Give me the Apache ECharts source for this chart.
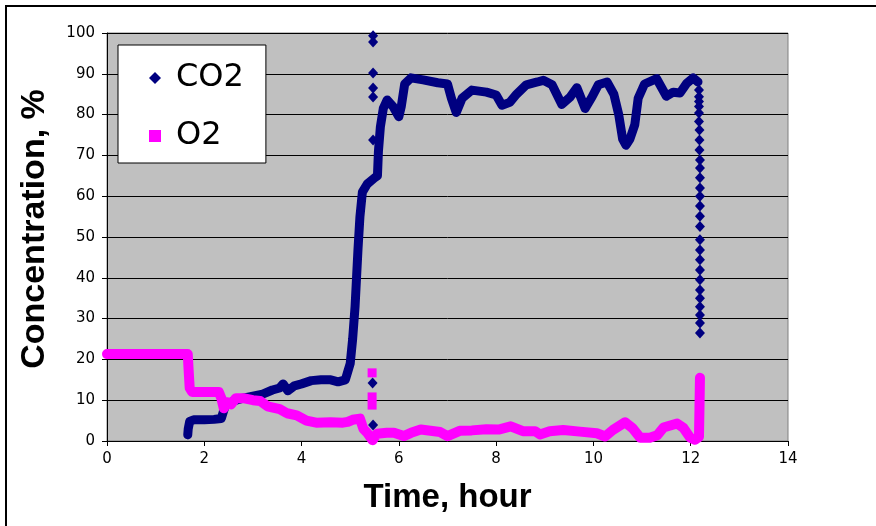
<!DOCTYPE html>
<html>
<head>
<meta charset="utf-8">
<script src="https://cdn.jsdelivr.net/npm/echarts@6/dist/echarts.min.js"></script>
<style>
    body { margin: 0; background: #fff; }
    #main { width: 876px; height: 526px; }
</style>
</head>
<body>
<div id="main"></div>
<script>
// CO2 concentration, continuous part [hour, %]
var co2Line = [
    [1.66, 1.5], [1.67, 3], [1.70, 4.8], [1.78, 5.2], [2.0, 5.2], [2.2, 5.3], [2.35, 5.5],
    [2.40, 7.5], [2.45, 9], [2.6, 9.8], [2.8, 10.5], [3.0, 11], [3.2, 11.5], [3.4, 12.5],
    [3.55, 13], [3.62, 14], [3.72, 12.3], [3.85, 13.5], [4.0, 14], [4.2, 14.8], [4.4, 15],
    [4.6, 15], [4.75, 14.5], [4.9, 15], [4.95, 17], [5.0, 19], [5.05, 25], [5.1, 33],
    [5.13, 40], [5.16, 47], [5.2, 55], [5.25, 61], [5.35, 63], [5.5, 64.5], [5.56, 65],
    [5.58, 71], [5.62, 77], [5.68, 81.5], [5.76, 83.6], [5.88, 82], [6.0, 79.5], [6.05, 82],
    [6.12, 87.5], [6.25, 89], [6.5, 88.5], [6.8, 87.8], [7.0, 87.5], [7.08, 84], [7.18, 80.5],
    [7.3, 84], [7.5, 86], [7.8, 85.5], [8.0, 84.8], [8.12, 82.3], [8.28, 83], [8.42, 85],
    [8.62, 87.3], [8.85, 88], [8.97, 88.4], [9.15, 87.3], [9.35, 82.5], [9.52, 84.3],
    [9.66, 86.6], [9.83, 81.5], [9.97, 84.3], [10.1, 87.3], [10.28, 88], [10.42, 85],
    [10.52, 80], [10.6, 74], [10.67, 72.5], [10.75, 74], [10.85, 77.5], [10.92, 84],
    [11.05, 87.5], [11.3, 88.8], [11.5, 84.5], [11.64, 85.5], [11.78, 85.3], [11.92, 87.7],
    [12.05, 89], [12.15, 88]
];
// CO2 single readings (spike at 5.5 h, drop at 12.2 h)
var co2Points = [
    [5.47, 100.2], [5.47, 99.3], [5.47, 97.8], [5.47, 90.2], [5.47, 86.5], [5.47, 84.3],
    [5.47, 73.8], [5.46, 14.2], [5.47, 3.9],
    [12.17, 86.0], [12.17, 84.4], [12.17, 83.2], [12.17, 82.0], [12.17, 80.4], [12.17, 78.3],
    [12.18, 76.2], [12.18, 73.8], [12.18, 71.3], [12.19, 68.9], [12.19, 66.9], [12.19, 64.5],
    [12.19, 62.0], [12.19, 60.0], [12.19, 57.6], [12.19, 55.1], [12.19, 52.6], [12.19, 49.3],
    [12.19, 46.8], [12.19, 44.4], [12.19, 41.9], [12.19, 39.5], [12.19, 37.0], [12.19, 35.0],
    [12.19, 32.9], [12.19, 30.9], [12.19, 28.9], [12.19, 26.5]
];
// O2 concentration [hour, %]
var o2Line = [
    [0, 21.3], [0.5, 21.3], [1.0, 21.3], [1.5, 21.3], [1.66, 21.3], [1.68, 17], [1.70, 13],
    [1.75, 12], [2.0, 12], [2.3, 12], [2.35, 10.5], [2.4, 8], [2.48, 9.5], [2.55, 9],
    [2.65, 10.5], [2.8, 10.5], [3.0, 10], [3.15, 9.8], [3.3, 8.5], [3.55, 7.8], [3.7, 6.8],
    [3.9, 6.3], [4.1, 5], [4.3, 4.5], [4.6, 4.6], [4.85, 4.5], [4.95, 4.7], [5.05, 5.2],
    [5.2, 5.5], [5.27, 3], [5.35, 2], [5.46, 0.2], [5.55, 1.8], [5.75, 2], [5.9, 2],
    [6.1, 1.2], [6.25, 2], [6.45, 2.8], [6.65, 2.5], [6.85, 2.2], [7.0, 1.2], [7.25, 2.5],
    [7.5, 2.6], [7.8, 2.9], [8.05, 2.8], [8.3, 3.6], [8.55, 2.4], [8.8, 2.4], [8.9, 1.6],
    [9.1, 2.4], [9.38, 2.7], [9.72, 2.3], [10.07, 1.9], [10.24, 1.1], [10.4, 2.7],
    [10.65, 4.6], [10.8, 3.2], [10.96, 0.8], [11.16, 0.8], [11.31, 1.4], [11.44, 3.3],
    [11.72, 4.3], [11.85, 3.2], [11.99, 0.8], [12.09, 0.3], [12.17, 1], [12.18, 8], [12.19, 15.5]
];
var o2Points = [[5.45, 16.7], [5.45, 10.8], [5.45, 8.8]];

var co2Color = '#000080';
var o2Color = '#FF00FF';

var option = {
    animation: false,
    graphic: [{
        type: 'rect',
        z: -10,
        shape: {x: 6, y: 6, width: 900, height: 600},
        style: {fill: 'none', stroke: '#000', lineWidth: 2}
    }],
    grid: {
        left: 107,
        right: 88,
        top: 33,
        bottom: 85,
        show: true,
        backgroundColor: '#C0C0C0',
        borderColor: '#808080',
        borderWidth: 1
    },
    legend: {
        orient: 'vertical',
        left: 118,
        top: 45,
        backgroundColor: '#fff',
        borderColor: '#000',
        borderWidth: 1,
        padding: [17, 22, 11, 31],
        itemGap: 26,
        itemWidth: 12,
        itemHeight: 12,
        lineStyle: {opacity: 0},
        textStyle: {fontSize: 32, fontFamily: 'DejaVu Sans', color: '#000', padding: [0, 0, 0, 10]},
        data: [
            {name: 'CO2', icon: 'diamond'},
            {name: 'O2', icon: 'rect'}
        ]
    },
    xAxis: {
        type: 'value',
        min: 0,
        max: 14,
        interval: 2,
        name: 'Time, hour',
        nameLocation: 'middle',
        nameGap: 40,
        nameTextStyle: {fontSize: 33, fontWeight: 'bold', fontFamily: 'Liberation Sans', color: '#000'},
        axisLine: {show: true, lineStyle: {color: '#000', width: 1}},
        axisTick: {show: true, length: 5, lineStyle: {color: '#000'}},
        axisLabel: {fontSize: 15, fontFamily: 'DejaVu Sans', color: '#000', margin: 11},
        splitLine: {show: false}
    },
    yAxis: {
        type: 'value',
        min: 0,
        max: 100,
        interval: 10,
        name: 'Concentration, %',
        nameLocation: 'middle',
        nameGap: 55,
        nameTextStyle: {fontSize: 34, fontWeight: 'bold', fontFamily: 'Liberation Sans', color: '#000', padding: [0, 0, 0, 16]},
        axisLine: {show: true, lineStyle: {color: '#000', width: 1}},
        axisTick: {show: true, length: 5, lineStyle: {color: '#000'}},
        axisLabel: {fontSize: 15, fontFamily: 'DejaVu Sans', color: '#000', margin: 12},
        splitLine: {show: true, lineStyle: {color: '#000', width: 1}}
    },
    series: [
        {
            name: 'CO2',
            type: 'scatter',
            symbol: 'diamond',
            symbolSize: [10, 11],
            data: co2Points,
            itemStyle: {color: co2Color, opacity: 1}
        },
        {
            name: 'CO2',
            type: 'line',
            showSymbol: false,
            data: co2Line,
            itemStyle: {color: co2Color},
            lineStyle: {color: co2Color, width: 9, cap: 'round', join: 'round'}
        },
        {
            name: 'O2',
            type: 'scatter',
            symbol: 'rect',
            symbolSize: 9,
            data: o2Points,
            itemStyle: {color: o2Color, opacity: 1}
        },
        {
            name: 'O2',
            type: 'line',
            showSymbol: false,
            data: o2Line,
            itemStyle: {color: o2Color},
            lineStyle: {color: o2Color, width: 10, cap: 'round', join: 'round'}
        }
    ]
};
var myChart = echarts.init(document.getElementById('main'));
myChart.setOption(option);
</script>
</body>
</html>
